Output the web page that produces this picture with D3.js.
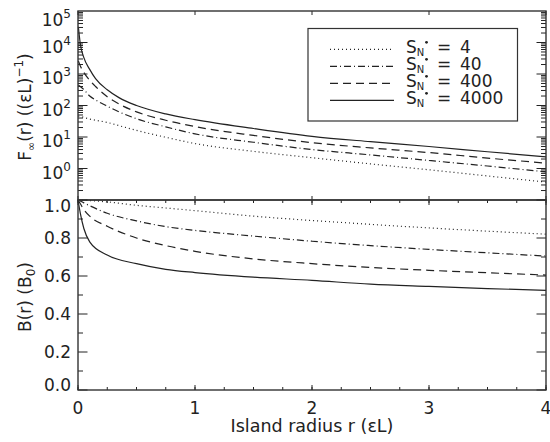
<!DOCTYPE html>
<html>
<head>
<meta charset="utf-8">
<script src="https://cdn.jsdelivr.net/npm/d3@7"></script>
<style>
  body { margin: 0; background: #fff; }
  text { font-family: "DejaVu Sans", sans-serif; fill: #222; }
</style>
</head>
<body>
<div id="chart"></div>
<script>
const width = 550;
const height = 442;

// island radius samples (units of eps*L)
const rTop = [0.003, 0.02, 0.05, 0.1, 0.15, 0.25, 0.35, 0.5, 0.75, 1, 1.5, 2, 2.5, 3, 3.5, 4];
const rBot = [0, 0.02, 0.05, 0.1, 0.25, 0.5, 0.75, 1, 1.5, 2, 2.5, 3, 3.5, 4];

// F_inf(r)
const fS4    = [46, 45, 42, 37, 34, 29, 23, 16.2, 9.8, 6.2, 3.5, 2.2, 1.4, 0.91, 0.58, 0.37];
const fS40   = [450, 400, 320, 200, 150, 95, 63, 38, 21, 12.6, 6.8, 4.0, 2.7, 1.8, 1.2, 0.78];
const fS400  = [2600, 1800, 1120, 630, 400, 190, 112, 63, 34, 21.4, 11.2, 6.6, 4.5, 3.2, 2.14, 1.48];
const fS4000 = [31600, 8900, 3300, 1400, 710, 316, 178, 100, 54, 35.5, 18.6, 10.5, 7.1, 5.0, 3.4, 2.34];

// B(r) in units of B0
const bS4    = [1.0, 1.0, 0.999, 0.997, 0.99, 0.972, 0.958, 0.944, 0.915, 0.892, 0.872, 0.853, 0.836, 0.82];
const bS40   = [1.0, 0.995, 0.985, 0.97, 0.93, 0.89, 0.86, 0.84, 0.81, 0.783, 0.76, 0.74, 0.722, 0.705];
const bS400  = [1.0, 0.98, 0.95, 0.915, 0.862, 0.80, 0.76, 0.73, 0.69, 0.665, 0.645, 0.63, 0.617, 0.605];
const bS4000 = [1.0, 0.93, 0.85, 0.78, 0.71, 0.665, 0.635, 0.618, 0.594, 0.577, 0.557, 0.545, 0.534, 0.524];

const legendVals = ["4", "40", "400", "4000"];
const dashes = ["1,3", "7,3,1,3", "8,5", null];
const xTickVals = [0, 1, 2, 3, 4];
const bTickVals = [0, 0.2, 0.4, 0.6, 0.8, 1.0];
const logTickExp = [0, 1, 2, 3, 4, 5];

const svg = d3.select('#chart').append('svg')
  .attr('width', width).attr('height', height);

const x = d3.scaleLinear().domain([0, 4]).range([78, 546]);
const yF = d3.scaleLog().domain([0.1, 1e5]).range([200, 11]);
const yB = d3.scaleLinear().domain([0, 1]).range([390, 200]);

const ink = '#222';

// curves
const fSeries = [fS4, fS40, fS400, fS4000];
const bSeries = [bS4, bS40, bS400, bS4000];
const lineF = d3.line().x(d => x(d[0])).y(d => yF(d[1])).curve(d3.curveMonotoneX);
const lineB = d3.line().x(d => x(d[0])).y(d => yB(d[1])).curve(d3.curveMonotoneX);

fSeries.forEach((s, i) => {
  svg.append('path')
    .attr('d', lineF(rTop.map((r, j) => [r, s[j]])))
    .attr('fill', 'none').attr('stroke', ink).attr('stroke-width', 1.2)
    .attr('stroke-dasharray', dashes[i]);
});
bSeries.forEach((s, i) => {
  svg.append('path')
    .attr('d', lineB(rBot.map((r, j) => [r, s[j]])))
    .attr('fill', 'none').attr('stroke', ink).attr('stroke-width', 1.2)
    .attr('stroke-dasharray', dashes[i]);
});

// ticks
const ticks = svg.append('g').attr('stroke', ink).attr('stroke-width', 1);
function tick(x1, y1, x2, y2) {
  ticks.append('line').attr('x1', x1).attr('y1', y1).attr('x2', x2).attr('y2', y2);
}
const xL = x(0), xR = x(4);
// x ticks
xTickVals.forEach(v => {
  tick(x(v), 11, x(v), 15);
  tick(x(v), 200, x(v), 196);
  tick(x(v), 200, x(v), 205);
  tick(x(v), 390, x(v), 385);
});
d3.range(0, 4.01, 0.25).forEach(v => {
  tick(x(v), 200, x(v), 203);
  tick(x(v), 390, x(v), 387);
});
// log y ticks
d3.range(-1, 5).forEach(e => {
  const base = Math.pow(10, e);
  tick(xL, yF(base), xL + 9.5, yF(base));
  tick(xR, yF(base), xR - 9.5, yF(base));
  for (let m = 2; m <= 9; m++) {
    tick(xL, yF(base * m), xL + 5, yF(base * m));
    tick(xR, yF(base * m), xR - 5, yF(base * m));
  }
});
// linear y ticks
d3.range(0, 1.001, 0.1).forEach((v, i) => {
  const len = i % 2 === 0 ? 9.5 : 5;
  tick(xL, yB(v), xL + len, yB(v));
  tick(xR, yB(v), xR - len, yB(v));
});

// frames
svg.append('rect').attr('x', xL).attr('y', 11).attr('width', xR - xL).attr('height', 189)
  .attr('fill', 'none').attr('stroke', '#333').attr('stroke-width', 1.4);
svg.append('rect').attr('x', xL).attr('y', 200).attr('width', xR - xL).attr('height', 190)
  .attr('fill', 'none').attr('stroke', '#333').attr('stroke-width', 1.4);

// tick labels
xTickVals.forEach(v => {
  svg.append('text').attr('x', x(v)).attr('y', 414)
    .attr('text-anchor', 'middle').attr('font-size', 17).text(v);
});
bTickVals.forEach(v => {
  let dy = 6;
  if (v === 1) dy = 12;
  if (v === 0) dy = 1;
  svg.append('text').attr('x', 71).attr('y', yB(v) + dy)
    .attr('text-anchor', 'end').attr('font-size', 17).text(v.toFixed(1));
});
logTickExp.forEach(e => {
  const t = svg.append('text').attr('x', 71).attr('y', yF(Math.pow(10, e)) + (e === 5 ? 15 : 10))
    .attr('text-anchor', 'end').attr('font-size', 17);
  t.append('tspan').text('10');
  t.append('tspan').attr('font-size', 12).attr('dy', -8).text(e);
});

// axis titles
svg.append('text').attr('x', 312).attr('y', 432).attr('text-anchor', 'middle')
  .attr('font-size', 17.5).text('Island radius r (\u03b5L)');

const fl = svg.append('text').attr('transform', 'translate(31,107) rotate(-90)')
  .attr('text-anchor', 'middle').attr('font-size', 17);
fl.append('tspan').text('F');
fl.append('tspan').attr('font-size', 11).attr('dy', 4).text('\u221e');
fl.append('tspan').attr('dy', -4).text('(r)  ((\u03b5L)');
fl.append('tspan').attr('font-size', 12).attr('dy', -8).text('\u22121');
fl.append('tspan').attr('dy', 8).text(')');

const bl = svg.append('text').attr('transform', 'translate(31,297) rotate(-90)')
  .attr('text-anchor', 'middle').attr('font-size', 17);
bl.append('tspan').text('B(r)  (B');
bl.append('tspan').attr('font-size', 12).attr('dy', 4).text('0');
bl.append('tspan').attr('dy', -4).text(')');

// legend
const lg = svg.append('g');
lg.append('rect').attr('x', 308).attr('y', 28.5).attr('width', 209.5).attr('height', 92.5)
  .attr('fill', '#fff').attr('stroke', '#333').attr('stroke-width', 1.2);
legendVals.forEach((v, i) => {
  const yb = 53.3 + 17 * i;
  lg.append('line').attr('x1', 330).attr('x2', 394).attr('y1', yb - 4).attr('y2', yb - 4)
    .attr('stroke', ink).attr('stroke-width', 1.2).attr('stroke-dasharray', dashes[i]);
  const lt = lg.append('text').attr('x', 406).attr('y', yb).attr('font-size', 17);
  lt.append('tspan').text('S');
  lt.append('tspan').attr('font-size', 10).attr('dy', 3).text('N');
  // the star marker sits as a small dot above the subscript
  lg.append('circle').attr('cx', 426.5).attr('cy', yb - 11).attr('r', 1.4).attr('fill', ink);
  lg.append('text').attr('x', 437).attr('y', yb).attr('font-size', 17).text('=');
  lg.append('text').attr('x', 460).attr('y', yb).attr('font-size', 17).text(v);
});
</script>
</body>
</html>
